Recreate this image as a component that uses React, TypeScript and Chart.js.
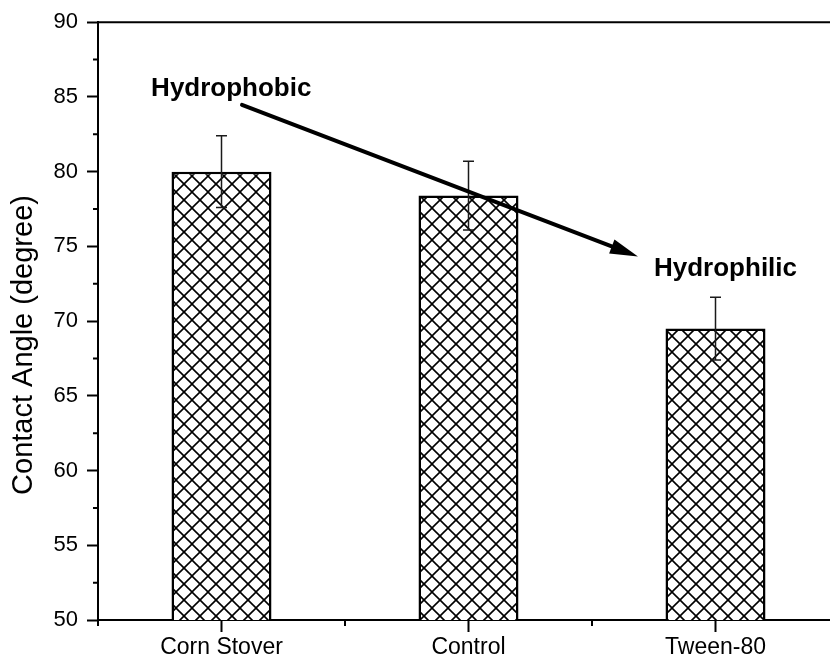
import { useEffect, useRef } from 'react';
import { Chart, registerables } from 'chart.js';

Chart.register(...registerables);

const FONT = '"Liberation Sans", Arial, Helvetica, sans-serif';

// ---- data ----
const categories = ['Corn Stover', 'Control', 'Tween-80'];
const contactAngle = [80.0, 78.4, 69.5];
const contactAngleError = [2.4, 2.3, 2.1];
const yMin = 50;
const yMax = 90;
const yStep = 5;
const yTitle = 'Contact Angle (degree)';
const annotationTexts = ['Hydrophobic', 'Hydrophilic'];

// annotation placement, in data coordinates (category index, degree)
const ANNOT = {
  labels: [
    { x: -0.285, y: 85.07 },
    { x: 1.751, y: 73.0 },
  ],
  arrowFrom: { x: 0.083, y: 84.47 },
  arrowTo: { x: 1.686, y: 74.33 },
};

function makeHatch(): CanvasPattern | string {
  const s = 16;
  const c = document.createElement('canvas');
  c.width = s;
  c.height = s;
  const g = c.getContext('2d');
  if (!g) return '#fff';
  g.fillStyle = '#fff';
  g.fillRect(0, 0, s, s);
  g.strokeStyle = '#000';
  g.lineWidth = 1.6;
  for (const k of [-1, 0, 1]) {
    g.beginPath();
    g.moveTo(k * s, 0);
    g.lineTo(k * s + s, s);
    g.stroke();
    g.beginPath();
    g.moveTo(k * s + s, 0);
    g.lineTo(k * s, s);
    g.stroke();
  }
  return g.createPattern(c, 'repeat') || '#fff';
}

const decorPlugin = {
  id: 'decor',
  afterDatasetsDraw(chart: any) {
    const ctx = chart.ctx as CanvasRenderingContext2D;
    const yScale = chart.scales.y;
    const meta = chart.getDatasetMeta(0);
    ctx.save();
    ctx.strokeStyle = '#1a1a1a';
    ctx.lineWidth = 1.5;
    meta.data.forEach((bar: any, i: number) => {
      const x = bar.x;
      const hi = yScale.getPixelForValue(contactAngle[i] + contactAngleError[i]);
      const lo = yScale.getPixelForValue(contactAngle[i] - contactAngleError[i]);
      const cap = 5.5;
      ctx.beginPath();
      ctx.moveTo(x, hi);
      ctx.lineTo(x, lo);
      ctx.moveTo(x - cap, hi);
      ctx.lineTo(x + cap, hi);
      ctx.moveTo(x - cap, lo);
      ctx.lineTo(x + cap, lo);
      ctx.stroke();
    });
    ctx.restore();
  },
  afterDraw(chart: any) {
    const ctx = chart.ctx as CanvasRenderingContext2D;
    const { left, top, bottom } = chart.chartArea;
    const xScale = chart.scales.x;
    const yScale = chart.scales.y;
    ctx.save();
    // top frame line
    ctx.strokeStyle = '#000';
    ctx.lineWidth = 2;
    ctx.beginPath();
    ctx.moveTo(left - 1, top);
    ctx.lineTo(chart.width, top);
    ctx.stroke();
    // minor y ticks
    ctx.beginPath();
    for (let v = yMin + yStep / 2; v < yMax; v += yStep) {
      const py = yScale.getPixelForValue(v);
      ctx.moveTo(left - 5, py);
      ctx.lineTo(left, py);
    }
    // minor x ticks at category boundaries
    for (let i = -0.5; i <= categories.length - 0.5; i += 1) {
      const px = xScale.getPixelForValue(i);
      ctx.moveTo(px, bottom);
      ctx.lineTo(px, bottom + 6);
    }
    ctx.stroke();

    // y axis title
    ctx.save();
    ctx.translate(24, 345);
    ctx.rotate(-Math.PI / 2);
    ctx.fillStyle = '#000';
    ctx.font = `29px ${FONT}`;
    ctx.textAlign = 'center';
    ctx.textBaseline = 'middle';
    ctx.fillText(yTitle, 0, 0);
    ctx.restore();

    // annotation texts
    ctx.fillStyle = '#000';
    ctx.font = `bold 26px ${FONT}`;
    ctx.textAlign = 'left';
    ctx.textBaseline = 'alphabetic';
    ANNOT.labels.forEach((p, i) => {
      ctx.fillText(annotationTexts[i], xScale.getPixelForValue(p.x), yScale.getPixelForValue(p.y));
    });

    // arrow
    const x0 = xScale.getPixelForValue(ANNOT.arrowFrom.x);
    const y0 = yScale.getPixelForValue(ANNOT.arrowFrom.y);
    const x1 = xScale.getPixelForValue(ANNOT.arrowTo.x);
    const y1 = yScale.getPixelForValue(ANNOT.arrowTo.y);
    const ang = Math.atan2(y1 - y0, x1 - x0);
    const headLen = 28;
    const headHalf = 7.5;
    const bx = x1 - headLen * Math.cos(ang);
    const by = y1 - headLen * Math.sin(ang);
    ctx.strokeStyle = '#000';
    ctx.lineWidth = 4;
    ctx.lineCap = 'round';
    ctx.beginPath();
    ctx.moveTo(x0, y0);
    ctx.lineTo(bx + 2 * Math.cos(ang), by + 2 * Math.sin(ang));
    ctx.stroke();
    ctx.beginPath();
    ctx.moveTo(x1, y1);
    ctx.lineTo(bx + headHalf * Math.sin(ang), by - headHalf * Math.cos(ang));
    ctx.lineTo(bx - headHalf * Math.sin(ang), by + headHalf * Math.cos(ang));
    ctx.closePath();
    ctx.fill();
    ctx.restore();
  },
};

export default function App() {
  const ref = useRef<HTMLCanvasElement | null>(null);

  useEffect(() => {
    if (!ref.current) return;
    const hatch = makeHatch();
    const chart = new Chart(ref.current, {
      type: 'bar',
      data: {
        labels: categories,
        datasets: [
          {
            data: contactAngle,
            backgroundColor: hatch as any,
            borderColor: '#000',
            borderWidth: 2.5,
            borderSkipped: false,
            barPercentage: 100 / 247,
            categoryPercentage: 1,
          },
        ],
      },
      options: {
        responsive: false,
        animation: false,
        devicePixelRatio: 1,
        layout: { padding: { left: 0, top: 20, right: 11, bottom: 0 } },
        plugins: {
          legend: { display: false },
          tooltip: { enabled: false },
          title: { display: false },
        },
        scales: {
          x: {
            type: 'category',
            offset: true,
            grid: {
              offset: false,
              drawOnChartArea: false,
              tickLength: 12,
              tickWidth: 2,
              tickColor: '#000',
            },
            border: { display: true, color: '#000', width: 2 },
            ticks: {
              color: '#000',
              font: { family: FONT, size: 23 },
              padding: 2,
              maxRotation: 0,
              autoSkip: false,
            },
            afterFit: (scale: any) => {
              scale.height = 41;
            },
          },
          y: {
            type: 'linear',
            min: yMin,
            max: yMax,
            grid: {
              drawOnChartArea: false,
              tickLength: 11,
              tickWidth: 2,
              tickColor: '#000',
            },
            border: { display: true, color: '#000', width: 2 },
            ticks: {
              stepSize: yStep,
              color: '#000',
              font: { family: FONT, size: 22 },
              padding: 9,
            },
            afterFit: (scale: any) => {
              scale.width = 98;
            },
          },
        },
      },
      plugins: [decorPlugin],
    });
    return () => chart.destroy();
  }, []);

  return (
    <div
      style={{
        position: 'fixed',
        left: 0,
        top: 0,
        width: 830,
        height: 661,
        overflow: 'hidden',
        background: '#fff',
      }}
    >
      <canvas ref={ref} width={850} height={661} style={{ display: 'block' }} />
    </div>
  );
}
